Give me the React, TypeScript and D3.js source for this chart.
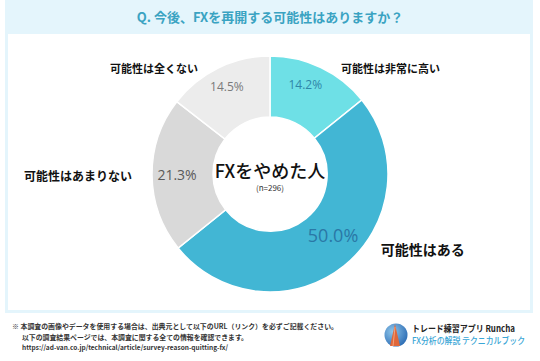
import { useEffect, useRef } from "react";
import * as d3 from "d3";

const categories = ["可能性は非常に高い", "可能性はある", "可能性はあまりない", "可能性は全くない"];
const shares = [14.2, 50.0, 21.3, 14.5];
const sliceColors = ["#6ee0e6", "#42b6d4", "#d9d9d9", "#ececec"];
const pctColors = ["#2f86a8", "#2a78a6", "#5a5a5a", "#7a7a7a"];
const title = "Q. 今後、FXを再開する可能性はありますか？";
const centerTitle = "FXをやめた人";
const centerSub = "(n=296)";
const footerLines = [
  "※ 本調査の画像やデータを使用する場合は、出典元として以下のURL（リンク）を必ずご記載ください。",
  "以下の調査結果ページでは、本調査に関する全ての情報を確認できます。",
  "https://ad-van.co.jp/technical/article/survey-reason-quitting-fx/",
];
const brandLines = ["トレード練習アプリ  Runcha", "FX分析の解説  テクニカルブック"];

const JP = "'Noto Sans CJK JP', 'Noto Sans', sans-serif";

export default function App() {
  const ref = useRef<SVGSVGElement>(null);

  useEffect(() => {
    if (!ref.current) return;
    const svg = d3.select(ref.current);
    svg.selectAll("*").remove();

    const W = 540, H = 361;
    const cx = 270, cy = 174;
    const outerR = 118, innerR = 57;

    // Frame
    svg.append("rect").attr("width", W).attr("height", H).attr("fill", "#fff");
    svg.append("rect")
      .attr("x", 5).attr("y", 0).attr("width", 528).attr("height", 313)
      .attr("fill", "#e4f5fc");
    svg.append("rect")
      .attr("x", 8).attr("y", 34).attr("width", 522).attr("height", 276)
      .attr("fill", "#fff");

    svg.append("text")
      .attr("x", cx).attr("y", 22)
      .attr("text-anchor", "middle")
      .attr("font-family", JP).attr("font-weight", 700).attr("font-size", 13)
      .attr("fill", "#3aa3c2")
      .text(title);

    // Donut
    const pie = d3.pie<number>().sort(null).value(d => d);
    const arcs = pie(shares);
    const arc = d3.arc<d3.PieArcDatum<number>>().innerRadius(innerR).outerRadius(outerR);
    const g = svg.append("g").attr("transform", `translate(${cx},${cy})`);

    g.selectAll("path.slice")
      .data(arcs)
      .enter()
      .append("path")
      .attr("class", "slice")
      .attr("d", arc)
      .attr("fill", (_, i) => sliceColors[i])
      .attr("stroke", "#fff")
      .attr("stroke-width", 1.5);

    // Percent labels
    const pctRadius = [96, 88, 93, 98];
    const pctSize = [12, 18, 14, 12];
    const pt = (a: number, r: number) => [Math.sin(a) * r, -Math.cos(a) * r];
    arcs.forEach((d, i) => {
      const mid = (d.startAngle + d.endAngle) / 2 - (i === 0 ? 0.07 : i === 1 ? 0.12 : 0);
      const [x, y] = pt(mid, pctRadius[i]);
      g.append("text")
        .attr("x", x).attr("y", y)
        .attr("text-anchor", "middle")
        .attr("dominant-baseline", "central")
        .attr("font-family", "'Open Sans', 'Noto Sans', sans-serif")
        .attr("font-size", pctSize[i])
        .attr("fill", pctColors[i])
        .text(d3.format(".1f")(shares[i]) + "%");
    });

    // Category labels
    const catSize = [11, 14, 12, 11];
    arcs.forEach((d, i) => {
      const mid = (d.startAngle + d.endAngle) / 2 - (i === 1 ? 0.2 : 0);
      const [x, y] = pt(mid, outerR);
      const right = x > 0;
      g.append("text")
        .attr("x", x + (right ? 20 : -20)).attr("y", y)
        .attr("text-anchor", right ? "start" : "end")
        .attr("dominant-baseline", "central")
        .attr("font-family", JP).attr("font-weight", 700)
        .attr("font-size", catSize[i])
        .attr("fill", "#111")
        .text(categories[i]);
    });

    // Center text
    g.append("text")
      .attr("x", 0).attr("y", -4)
      .attr("text-anchor", "middle")
      .attr("dominant-baseline", "central")
      .attr("font-family", JP).attr("font-weight", 500).attr("font-size", 18)
      .attr("fill", "#111")
      .text(centerTitle);
    g.append("text")
      .attr("x", 0).attr("y", 13)
      .attr("text-anchor", "middle")
      .attr("dominant-baseline", "central")
      .attr("font-family", JP).attr("font-size", 8)
      .attr("fill", "#333")
      .text(centerSub);

    // Footer
    const footX = [12, 22, 22];
    const footLen = [326, 226, 206];
    footerLines.forEach((t, i) => {
      svg.append("text")
        .attr("x", footX[i]).attr("y", 329 + i * 10.5)
        .attr("font-family", JP).attr("font-weight", 700).attr("font-size", 6.8)
        .attr("textLength", footLen[i]).attr("lengthAdjust", "spacingAndGlyphs")
        .attr("fill", "#333")
        .text(t);
    });

    // Logo
    const defs = svg.append("defs");
    const grad = defs.append("radialGradient").attr("id", "logo-grad")
      .attr("cx", "35%").attr("cy", "35%").attr("r", "70%");
    grad.append("stop").attr("offset", "0%").attr("stop-color", "#8fc6ea");
    grad.append("stop").attr("offset", "100%").attr("stop-color", "#2f6fb6");
    svg.append("circle").attr("cx", 396).attr("cy", 335).attr("r", 11.5).attr("fill", "url(#logo-grad)");
    svg.append("path")
      .attr("d", "M395,324 L390,346 L400,346 Z")
      .attr("fill", "#e0673a");
    svg.append("path")
      .attr("d", "M395,327 L393,346")
      .attr("stroke", "#f4a37c").attr("stroke-width", 1);

    svg.append("text")
      .attr("x", 412).attr("y", 331.5)
      .attr("font-family", JP).attr("font-weight", 700).attr("font-size", 9)
      .attr("textLength", 103).attr("lengthAdjust", "spacingAndGlyphs")
      .attr("fill", "#222")
      .text(brandLines[0]);
    svg.append("text")
      .attr("x", 412).attr("y", 344)
      .attr("font-family", JP).attr("font-weight", 500).attr("font-size", 9)
      .attr("textLength", 113).attr("lengthAdjust", "spacingAndGlyphs")
      .attr("fill", "#3aa6d6")
      .text(brandLines[1]);
  }, []);

  return (
    <svg
      ref={ref}
      width={540}
      height={361}
      style={{ position: "absolute", left: 0, top: 0, display: "block" }}
    />
  );
}
